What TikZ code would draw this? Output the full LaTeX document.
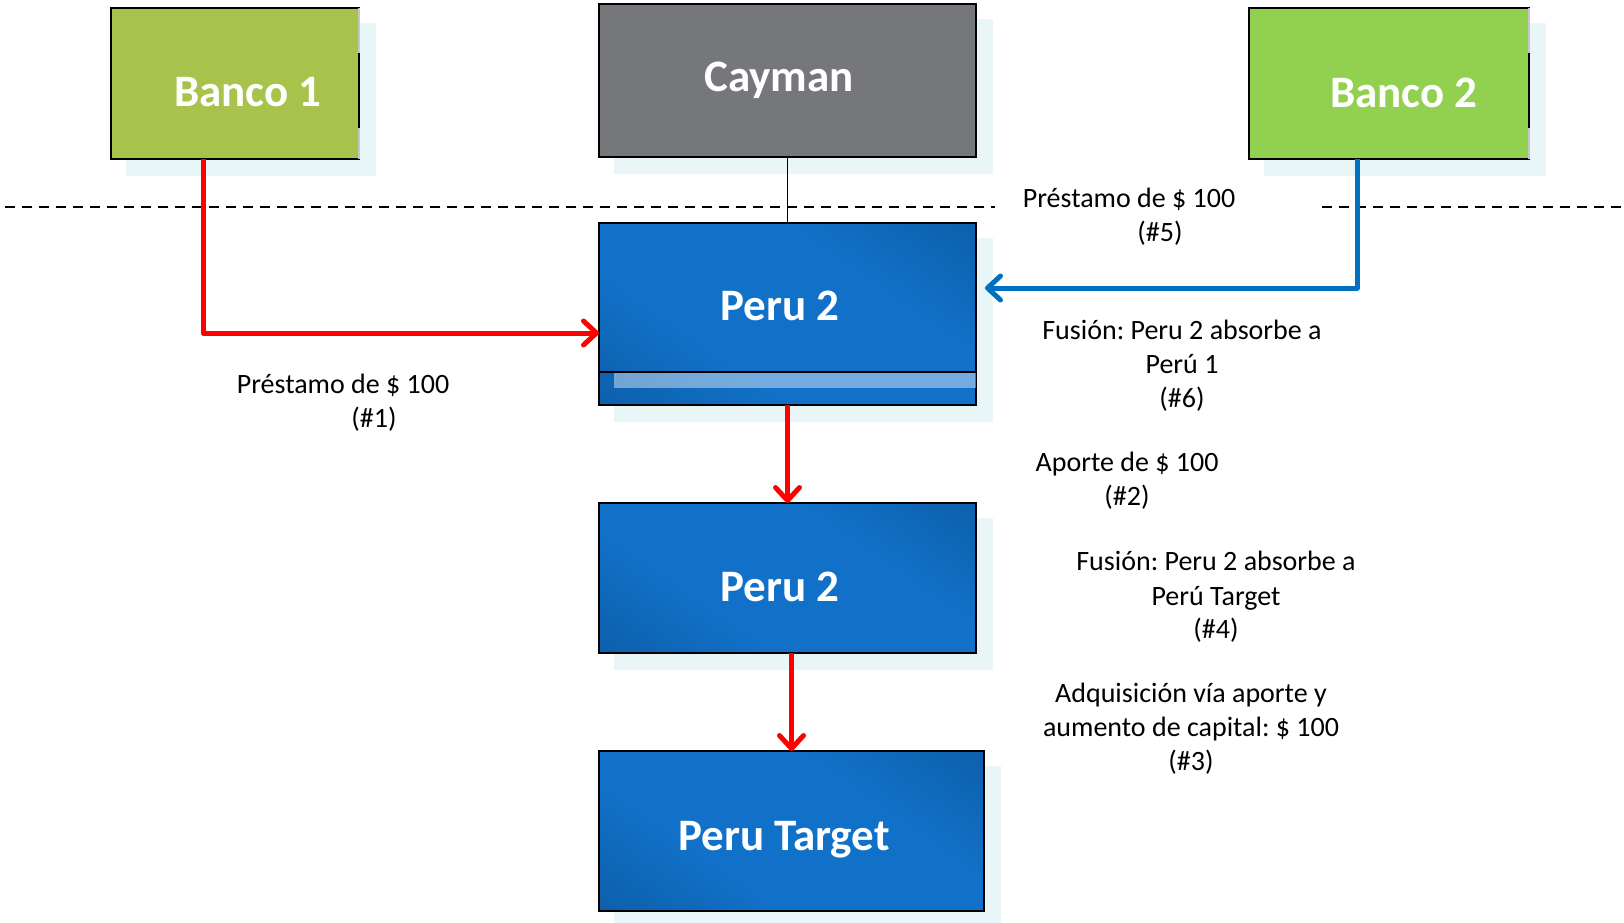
\documentclass[tikz,border=0pt]{standalone}
\usepackage{fontspec}
\setmainfont{Carlito}
\usetikzlibrary{arrows.meta,calc,backgrounds}
\frenchspacing

\definecolor{bankA}{HTML}{A7C34B}
\definecolor{bankB}{HTML}{92D050}
\definecolor{caygray}{HTML}{76777A}
\definecolor{plight}{HTML}{1171C8}
\definecolor{pdark}{HTML}{0A5296}
\definecolor{shadowc}{HTML}{E8F6F8}
\definecolor{flowred}{HTML}{FF0000}
\definecolor{flowblue}{HTML}{0070C0}

\pgfdeclareverticalshading{peruglow}{100bp}{color(0bp)=(pdark); color(36bp)=(plight); color(64bp)=(plight); color(100bp)=(pdark)}

\begin{document}
\begin{tikzpicture}[x=1pt,y=-1pt,
  box/.style={draw=black, line width=1.8pt, inner sep=0pt, outer sep=0pt, anchor=north west},
  perubox/.style={box, shading=peruglow, shading angle=-35},
  boxlbl/.style={text=white, font=\fontsize{45}{54}\selectfont\bfseries, inner sep=0pt, anchor=base},
  note/.style={font=\fontsize{28}{34}\selectfont, inner sep=0pt, anchor=base},
  redflow/.style={draw=flowred, line width=5pt, line join=round,
    -{Straight Barb[length=13pt,width=24pt,line cap=round,line join=round]}},
  blueflow/.style={draw=flowblue, line width=5pt, line join=round,
    -{Straight Barb[length=13pt,width=24pt,line cap=round,line join=round]}},
  shade/.style={fill=shadowc}]
\useasboundingbox (0,0) rectangle (1624,922);

% boxes
\node[box, fill=bankA, minimum width=248pt, minimum height=151pt] (b1) at (111,8) {};
\node[box, fill=caygray, minimum width=377pt, minimum height=153pt] (cay) at (599,4) {};
\node[box, fill=bankB, minimum width=280pt, minimum height=151pt] (b2) at (1249,8) {};
\node[perubox, minimum width=377pt, minimum height=182pt] (p2a) at (599,223) {};
\node[perubox, minimum width=377pt, minimum height=150pt] (p2b) at (599,503) {};
\node[perubox, minimum width=385pt, minimum height=160pt] (pt) at (599,751) {};

% lighter ends of the bank boxes' right edges
\foreach \b in {b1,b2}{
  \draw[gray!45, line width=1.8pt] (\b.north east) -- ++(0,45);
  \draw[gray!45, line width=1.8pt] (\b.south east) -- ++(0,-31);
}

% drop shadows
\begin{scope}[on background layer]
  \foreach \b in {b1,cay,b2,p2a,p2b,pt}{
    \fill[shade] ($(\b.north west)+(15,15)$) rectangle ($(\b.south east)+(17,17)$);
  }
\end{scope}

% lower band of the upper Peru 2 box
\fill[white, opacity=0.42] ($(p2a.south west)+(15,-32)$) rectangle ($(p2a.south east)+(0,-17)$);
\draw[line width=1.8pt] ($(p2a.south west)+(0,-33)$) -- ($(p2a.south east)+(0,-33)$);

% box titles
\node[boxlbl] (tb1) at (248,106) {Banco 1};
\node[boxlbl] (tcay) at (779,91) {Cayman};
\node[boxlbl] (tb2) at (1404,107) {Banco 2};
\node[boxlbl] (tp2a) at (780,320) {Peru 2};
\node[boxlbl] (tp2b) at (780,601) {Peru 2};
\node[boxlbl] (tpt) at (784,850) {Peru Target};

% jurisdiction boundary
\coordinate (dl0) at (5,207);
\coordinate (dl1) at (995,207);
\coordinate (dr0) at (1322,207);
\coordinate (dr1) at (1624,207);
\draw[line width=1.5pt, dash pattern=on 10pt off 7pt] (dl0) -- (dl1);
\draw[line width=1.5pt, dash pattern=on 10pt off 7pt] (dr0) -- (dr1);

% ownership and flows
\draw[line width=1.5pt] (cay.south) -- (p2a.north);
\draw[redflow] ($(b1.south west)+(92,0)$) |- ($(p2a.west)+(0,19)$);
\draw[redflow] (p2a.south) -- (p2b.north);
\draw[redflow] (p2b.south -| pt.north) -- (pt.north);
\draw[blueflow, shorten >=9pt] ($(b2.south west)+(108,0)$) |- ($(p2a.east)+(0,-26)$);

% annotations
\node[note] (n5a) at (1129,207) {Préstamo de \$ 100};
\node[note] (n5b) at (1160,241) {(\#5)};
\node[note] (n1a) at (343,393) {Préstamo de \$ 100};
\node[note] (n1b) at (374,427) {(\#1)};
\node[note] (n6a) at (1182,339) {Fusión: Peru 2 absorbe a};
\node[note] (n6b) at (1182,373) {Perú 1};
\node[note] (n6c) at (1182,407) {(\#6)};
\node[note] (n2a) at (1127,471) {Aporte de \$ 100};
\node[note] (n2b) at (1127,505) {(\#2)};
\node[note] (n4a) at (1216,570) {Fusión: Peru 2 absorbe a};
\node[note] (n4b) at (1216,605) {Perú Target};
\node[note] (n4c) at (1216,638) {(\#4)};
\node[note] (n3a) at (1191,702) {Adquisición vía aporte y};
\node[note] (n3b) at (1191,736) {aumento de capital: \$ 100};
\node[note] (n3c) at (1191,770) {(\#3)};
\end{tikzpicture}
\end{document}
